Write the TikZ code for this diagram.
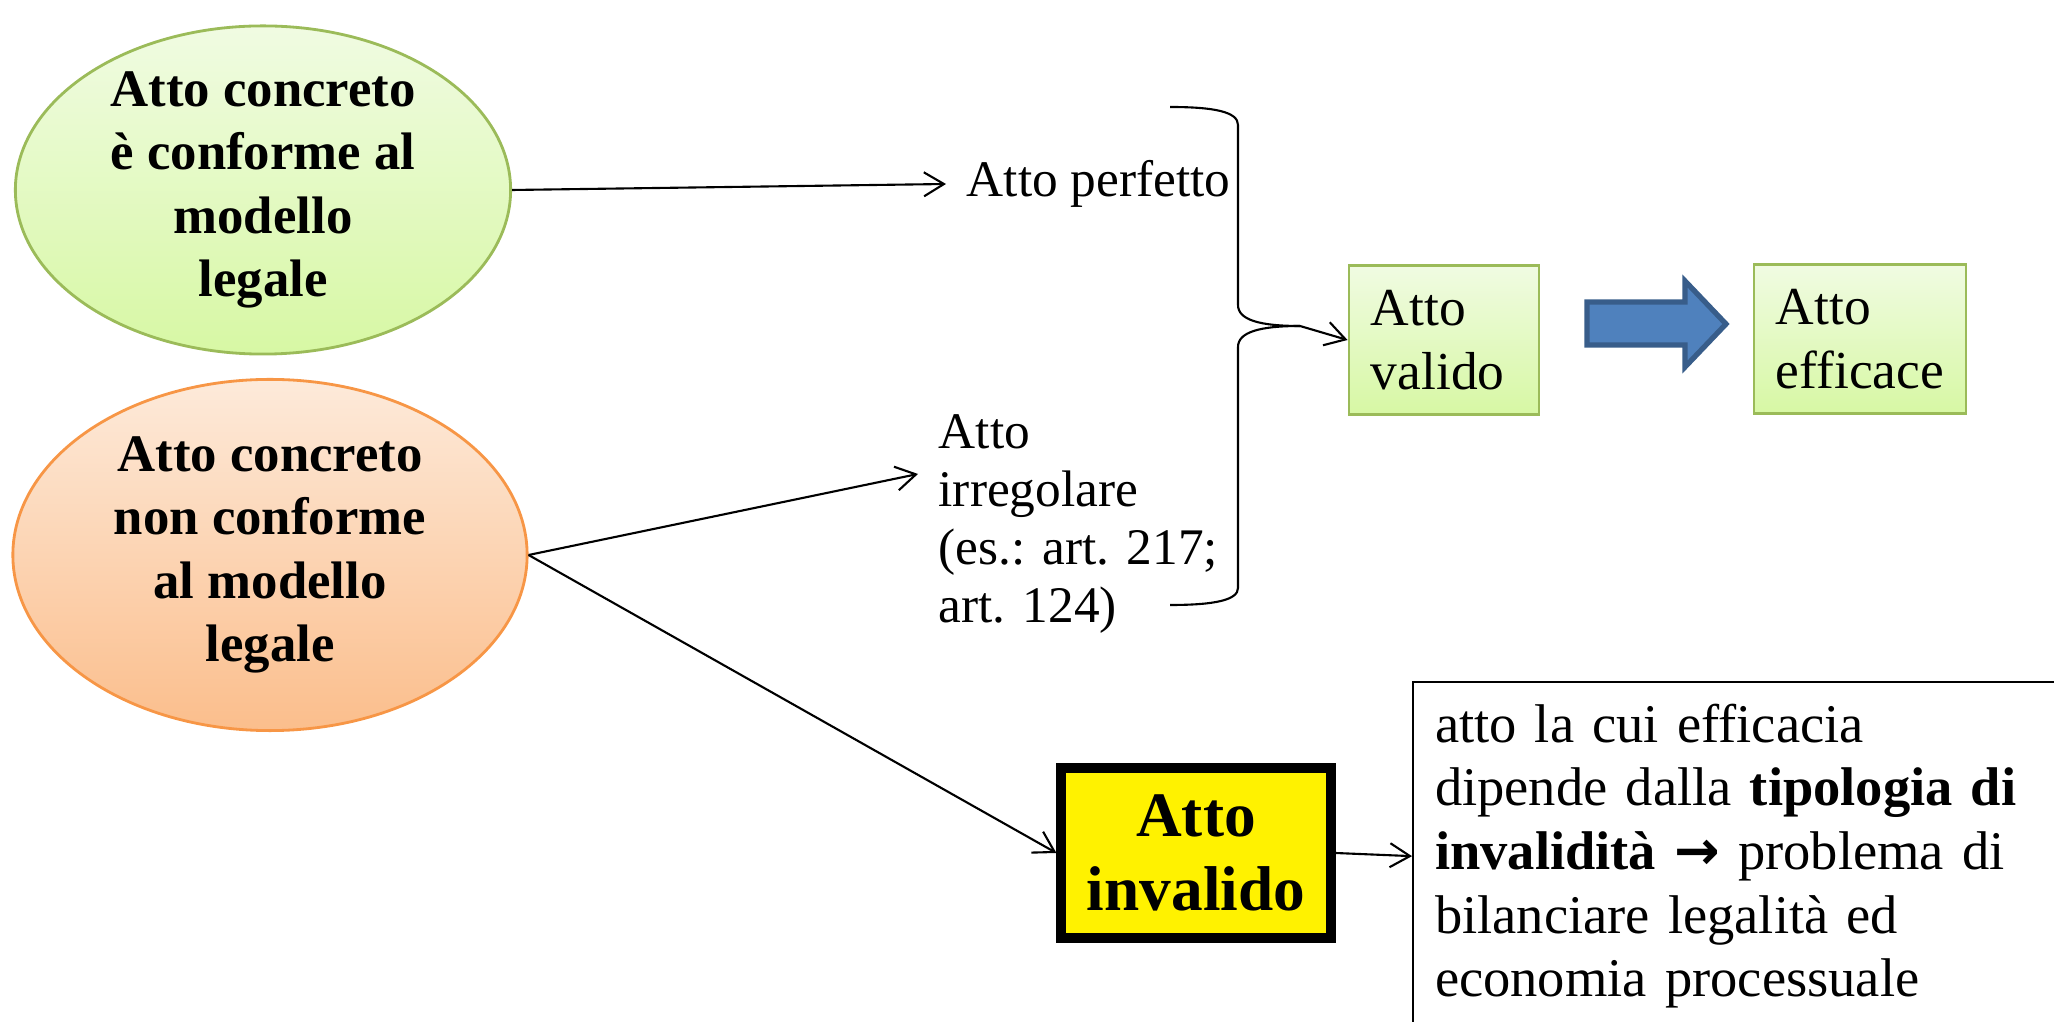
\documentclass[tikz,border=0pt]{standalone}
\usepackage{fontspec}
\setmainfont{Liberation Serif}
\newfontfamily\frecciafont{DejaVu Sans}
\usetikzlibrary{shapes.geometric,arrows.meta}
\definecolor{conf-top}{RGB}{240,251,226}
\definecolor{conf-bottom}{RGB}{215,248,164}
\definecolor{conf-line}{RGB}{155,187,89}
\definecolor{nonconf-top}{RGB}{253,234,218}
\definecolor{nonconf-bottom}{RGB}{251,190,140}
\definecolor{nonconf-line}{RGB}{247,150,70}
\definecolor{freccia-fill}{RGB}{79,129,189}
\definecolor{freccia-line}{RGB}{56,93,138}

\begin{document}
\begin{tikzpicture}[x=0.01cm,y=-0.01cm,
  >={Straight Barb[length=2mm,width=2.4mm]},
  conn/.style={->,line width=0.6pt},
  ovale/.style={ellipse,draw,line width=0.8pt,inner sep=-0.1cm,align=center,font=\fontsize{15}{18}\selectfont\bfseries},
  riquadro/.style={draw=conf-line,line width=0.8pt,top color=conf-top,bottom color=conf-bottom,minimum height=1.49cm,inner xsep=0.22cm,align=left,font=\fontsize{15.2}{18}\selectfont},
  testo/.style={anchor=west,inner xsep=0.2cm,align=left,font=\fontsize{14.6}{16.5}\selectfont}]
\useasboundingbox (0,0) rectangle (2054,1022);

\node[ovale,draw=conf-line,top color=conf-top,bottom color=conf-bottom,minimum width=4.95cm,minimum height=3.28cm] (concreto_conf) at (263,190) {Atto concreto\\è conforme al\\modello\\legale};
\node[ovale,draw=nonconf-line,top color=nonconf-top,bottom color=nonconf-bottom,minimum width=5.14cm,minimum height=3.51cm] (concreto_nonconf) at (270,555) {Atto concreto\\non conforme\\al modello\\legale};

\node[testo] (atto_perfetto) at (946,184) {Atto perfetto};
\node[testo] (atto_irregolare) at (918,524) {Atto\\irregolare\\(es.: art. 217;\\art. 124)};

\node[riquadro,text width=1.46cm] (atto_valido) at (1444,340) {Atto\\valido};
\node[riquadro,text width=1.68cm] (atto_efficace) at (1860,339) {Atto\\efficace};

\node[draw=black,line width=0.1cm,fill=yellow,minimum width=2.69cm,minimum height=1.69cm,align=center,font=\fontsize{18}{21}\selectfont\bfseries] (atto_invalido) at (1196,853) {Atto\\invalido};
\node[draw=black,line width=0.6pt,anchor=north west,minimum height=3.48cm,text width=6.2cm,inner xsep=0.22cm,align=left,font=\fontsize{15.5}{18.1}\selectfont] (nota_invalido) at (1412,681) {atto la cui efficacia\\dipende dalla \textbf{tipologia di}\\\textbf{invalidità {\frecciafont →}} problema di\\bilanciare legalità ed\\economia processuale};

\coordinate (graffa_punta) at (1300,326);
\draw[line width=0.6pt] (1170,107) .. controls (1215,107) and (1238,112) .. (1238,125) -- (1238,305) .. controls (1238,320) and (1260,326) .. (graffa_punta);
\draw[line width=0.6pt] (graffa_punta) .. controls (1260,326) and (1238,332) .. (1238,347) -- (1238,588) .. controls (1238,600) and (1215,605) .. (1170,605);

\fill[freccia-fill,draw=freccia-line,line width=1.5pt] (1587,302) -- (1685,302) -- (1685,281) -- (1726,324) -- (1685,367) -- (1685,345) -- (1587,345) -- cycle;

\draw[conn] (concreto_conf.east) -- (atto_perfetto.west);
\draw[conn] (graffa_punta) -- (atto_valido.west);
\draw[conn] (concreto_nonconf.east) -- ([yshift=0.5cm]atto_irregolare.west);
\draw[conn] (concreto_nonconf.east) -- (atto_invalido.west);
\draw[conn] (atto_invalido.east) -- (nota_invalido.west);
\end{tikzpicture}
\end{document}
